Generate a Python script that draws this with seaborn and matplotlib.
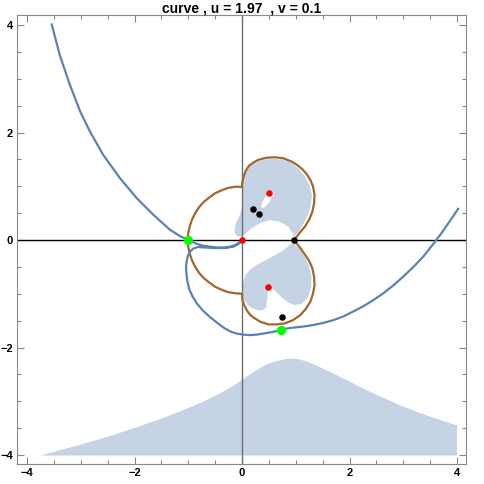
import numpy as np
import pandas as pd
import matplotlib
matplotlib.use("Agg")
import matplotlib.pyplot as plt
import seaborn as sns
from matplotlib.ticker import MultipleLocator

# ---------------- data ----------------
title_text = "curve , u = 1.97  , v = 0.1"

# blue curve (single path)
curve_x = [-3.54, -3.39, -3.20, -3.01, -2.83, -2.58, -2.27, -1.96, -1.65, -1.34, -1.15, -0.99,
           -0.87, -0.75, -0.63, -0.47, -0.32, -0.20, -0.10, -0.03, 0.00,
           -0.06, -0.15, -0.32, -0.50, -0.68, -0.82, -0.91, -0.97, -1.01, -1.03,
           -1.04, -1.04, -1.02, -0.98, -0.92, -0.84, -0.73, -0.60, -0.50, -0.41, -0.31, -0.22,
           -0.10, 0.02, 0.15, 0.27, 0.40, 0.52, 0.62, 0.72, 0.84, 0.95, 1.14, 1.33, 1.52,
           1.70, 1.89, 2.07, 2.26, 2.44, 2.63, 2.82, 3.00, 3.19, 3.38, 3.56, 3.69, 3.81, 3.92, 4.02]
curve_y = [4.01, 3.44, 2.88, 2.39, 2.02, 1.58, 1.15, 0.78, 0.47, 0.19, 0.07, 0.00,
           -0.06, -0.10, -0.12, -0.14, -0.14, -0.12, -0.08, -0.03, 0.00,
           -0.07, -0.12, -0.15, -0.15, -0.14, -0.13, -0.16, -0.22, -0.30, -0.40,
           -0.48, -0.56, -0.75, -0.92, -1.05, -1.18, -1.31, -1.43, -1.51, -1.58, -1.65, -1.70,
           -1.74, -1.76, -1.77, -1.76, -1.74, -1.72, -1.70, -1.67, -1.645, -1.63, -1.61, -1.58, -1.54,
           -1.49, -1.42, -1.33, -1.23, -1.12, -0.99, -0.84, -0.68, -0.50, -0.30, -0.07, 0.10, 0.27, 0.43, 0.58]

# brown closed curve: left arc, lower lobe, upper lobe
brown_x = [0.00, -0.13, -0.26, -0.39, -0.50, -0.61, -0.71, -0.80, -0.87, -0.93, -0.97, -1.00, -1.01,
           -1.00, -0.97, -0.93, -0.87, -0.80, -0.71, -0.61, -0.50, -0.39, -0.26, -0.13, 0.00,
           0.00, 0.01, 0.04, 0.09, 0.15, 0.21, 0.34, 0.49, 0.65, 0.80, 0.95, 1.08, 1.18, 1.27,
           1.32, 1.35, 1.34, 1.31, 1.25, 1.17, 1.07, 0.97,
           1.07, 1.17, 1.25, 1.31, 1.34, 1.35, 1.32, 1.27, 1.20, 1.12, 1.02, 0.92, 0.77, 0.61,
           0.45, 0.30, 0.21, 0.13, 0.07, 0.03, 0.01, 0.00, 0.00]
brown_y = [0.99, 0.99, 0.97, 0.92, 0.87, 0.79, 0.71, 0.61, 0.50, 0.38, 0.26, 0.13, 0.00,
           -0.13, -0.26, -0.38, -0.50, -0.61, -0.71, -0.79, -0.87, -0.92, -0.97, -0.99, -1.00,
           -1.04, -1.12, -1.21, -1.31, -1.39, -1.44, -1.52, -1.57, -1.57, -1.55, -1.49, -1.40, -1.29, -1.15,
           -1.00, -0.84, -0.68, -0.53, -0.39, -0.27, -0.13, 0.00,
           0.13, 0.25, 0.38, 0.53, 0.68, 0.84, 1.00, 1.12, 1.23, 1.32, 1.40, 1.46, 1.52, 1.54,
           1.53, 1.49, 1.44, 1.38, 1.29, 1.18, 1.09, 1.03, 0.99]

# upper shaded blob
upper_x = [0.97, 1.07, 1.16, 1.24, 1.28, 1.30, 1.26, 1.17, 1.06, 0.92, 0.77, 0.61, 0.45, 0.30,
           0.18, 0.09, 0.03, 0.02, 0.02, 0.02, -0.04, -0.10, -0.13, -0.14, -0.10, -0.04, 0.03,
           0.14, 0.33, 0.52, 0.70, 0.86, 0.93]
upper_y = [0.05, 0.18, 0.33, 0.50, 0.66, 0.84, 1.02, 1.18, 1.32, 1.43, 1.49, 1.51, 1.50, 1.46,
           1.40, 1.29, 1.12, 0.98, 0.84, 0.65, 0.47, 0.35, 0.25, 0.15, 0.08, 0.06, 0.09,
           0.19, 0.31, 0.37, 0.34, 0.25, 0.14]

# hole in upper blob
hole_x = [0.35, 0.38, 0.43, 0.49, 0.55, 0.59, 0.55, 0.49, 0.41]
hole_y = [0.60, 0.71, 0.79, 0.86, 0.91, 0.87, 0.78, 0.68, 0.60]

# lower shaded blob
lower_x = [0.95, 1.06, 1.16, 1.24, 1.29, 1.29, 1.22, 1.10, 0.98, 0.85, 0.72, 0.60, 0.52, 0.48,
           0.47, 0.45, 0.38, 0.27, 0.14, 0.04, 0.01, 0.01, 0.06, 0.15, 0.28, 0.45, 0.60, 0.74, 0.86]
lower_y = [-0.04, -0.15, -0.30, -0.46, -0.65, -0.88, -1.08, -1.19, -1.21, -1.16, -1.05, -0.93, -0.88, -0.95,
           -1.10, -1.25, -1.31, -1.30, -1.24, -1.12, -0.98, -0.82, -0.66, -0.55, -0.46, -0.37, -0.29, -0.21, -0.12]

# bottom shaded region (upper boundary)
band_x = [-3.76, -3.35, -2.95, -2.50, -2.02, -1.55, -1.09, -0.78, -0.47, -0.23, 0.00, 0.20, 0.40,
          0.60, 0.83, 1.00, 1.20, 1.45, 1.70, 2.00, 2.32, 2.63, 2.94, 3.25, 3.56, 3.99]
band_y = [-4.00, -3.89, -3.78, -3.65, -3.49, -3.33, -3.15, -3.02, -2.87, -2.74, -2.59, -2.45, -2.33,
          -2.25, -2.20, -2.20, -2.25, -2.36, -2.48, -2.63, -2.79, -2.93, -3.07, -3.19, -3.30, -3.44]
band_floor = -4.0

green_x = [-1.00, 0.73]
green_y = [0.00, -1.67]
red_x = [0.00, 0.50, 0.49]
red_y = [0.00, 0.87, -0.87]
black_x = [0.97, 0.20, 0.32, 0.74]
black_y = [0.00, 0.58, 0.48, -1.44]

# ---------------- styling ----------------
BLUE = "#5E81B5"
BROWN = "#A0672E"
plt.rcParams['font.family'] = ['Liberation Sans', 'DejaVu Sans']

fig = plt.figure(figsize=(4.85, 4.84), dpi=100)
ax = fig.add_axes([17/485, 20/484, 449/485, 449/484])

# shaded regions
ax.fill_between(band_x, band_y, band_floor, color=BLUE, alpha=0.35, lw=0, zorder=1)
ax.fill(upper_x, upper_y, color=BLUE, alpha=0.35, lw=0, zorder=1)
ax.fill(hole_x, hole_y, color="white", lw=0, zorder=1.5)
ax.fill(lower_x, lower_y, color=BLUE, alpha=0.35, lw=0, zorder=1)

# axes lines
ax.axhline(0, color="black", lw=1.0, zorder=2)
ax.axvline(0, color="#6e6e6e", lw=1.0, zorder=2)

# curves
sns.lineplot(x=brown_x, y=brown_y, sort=False, estimator=None, color=BROWN, lw=1.6,
             solid_joinstyle="round", ax=ax, zorder=3)
sns.lineplot(x=curve_x, y=curve_y, sort=False, estimator=None, color=BLUE, lw=1.6,
             solid_joinstyle="round", ax=ax, zorder=3)

# points
sns.scatterplot(x=black_x, y=black_y, color="black", s=22, linewidth=0, ax=ax, zorder=5)
sns.scatterplot(x=red_x, y=red_y, color="#FF0000", s=22, linewidth=0, ax=ax, zorder=5)
sns.scatterplot(x=green_x, y=green_y, color="#00FF00", s=45, linewidth=0, ax=ax, zorder=5)

ax.set_xlim(-4.186, 4.167)
ax.set_ylim(-4.167, 4.186)

ax.xaxis.set_major_locator(MultipleLocator(2))
ax.yaxis.set_major_locator(MultipleLocator(2))
ax.xaxis.set_minor_locator(MultipleLocator(0.5))
ax.yaxis.set_minor_locator(MultipleLocator(0.5))
ax.tick_params(which="both", direction="in", top=True, right=True, colors="#888888",
               labelcolor="black", width=0.8)
ax.tick_params(which="major", length=5, labelsize=8, pad=3)
ax.tick_params(which="minor", length=3)
for lab in ax.get_xticklabels() + ax.get_yticklabels():
    lab.set_fontweight("bold")
for sp in ax.spines.values():
    sp.set_color("#888888")
    sp.set_linewidth(0.8)

ax.set_title(title_text, fontsize=10, fontweight="bold", pad=2)
ax.set_xlabel("")
ax.set_ylabel("")

fig.savefig("out.png", dpi=100)
